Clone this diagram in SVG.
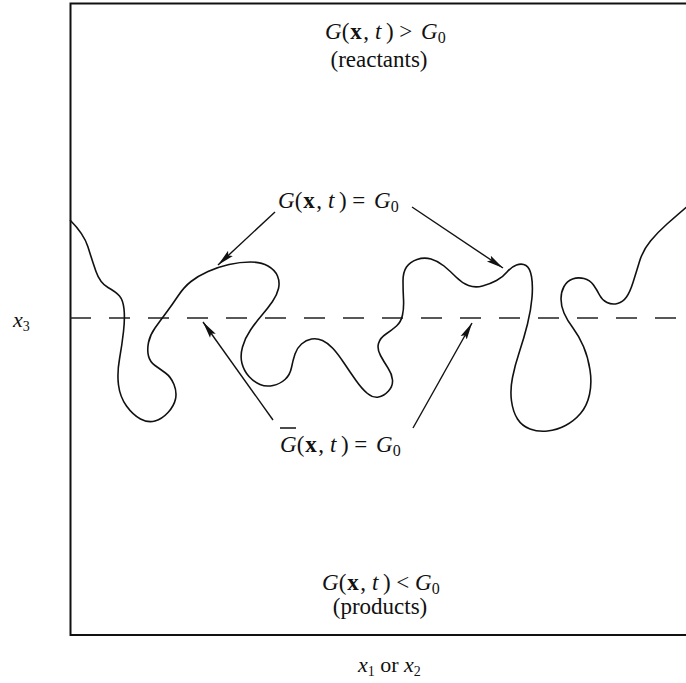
<svg xmlns="http://www.w3.org/2000/svg" width="686" height="683" viewBox="0 0 686 683">
<style>
text{font-family:"Liberation Serif","Times New Roman",serif;font-size:23px;fill:#111}
.i{font-style:italic}
.b{font-weight:bold}
.s{font-size:16px}
.ss{font-size:14px}
.frame{fill:none;stroke:#111;stroke-width:2}
.curve{fill:none;stroke:#111;stroke-width:1.6;stroke-linejoin:round}
.dash{fill:none;stroke:#222;stroke-width:1.6;stroke-dasharray:21 18}
.arrow{fill:none;stroke:#111;stroke-width:1.4}
</style>
<defs>
<marker id="ah" markerUnits="userSpaceOnUse" markerWidth="20" markerHeight="10" refX="17" refY="4" orient="auto">
<path d="M0,0.5 L17,4 L0,7.5 L3,4 z" fill="#111"/>
</marker>
</defs>
<rect width="686" height="683" fill="#fff"/>
<g id="frame">
<path class="frame" d="M686,3.5 H70.5 V635 H686"/>
</g>
<g id="mean-line">
<line class="dash" x1="70" y1="318" x2="686" y2="318"/>
</g>
<g id="flame-front">
<path class="curve" d="M70,220 Q84,234 88,247 Q92,260 96,271.5 Q100,283 108,287.5 Q116,292 119.5,296 Q123,300 124,309 Q125,318 123.5,331.5 Q122,345 119.5,359 Q117,373 118.5,385 Q120,397 126.5,406 Q133,415 140.5,419 Q148,423 155,421 Q162,419 168,412.5 Q174,406 175.5,399 Q177,392 174,384.5 Q171,377 165.5,373 Q160,369 155,365.5 Q150,362 148.5,356 Q147,350 148.5,342.5 Q150,335 155,328 Q160,321 166,313 Q172,305 178,296 Q184,287 191,281.5 Q198,276 208,271.5 Q218,267 229,264.5 Q240,262 250.5,262 Q261,262 268,266 Q275,270 277.5,276 Q280,282 278.5,288.5 Q277,295 272.5,301.5 Q268,308 262,315 Q256,322 250.5,330 Q245,338 242.5,347 Q240,356 242,363.5 Q244,371 249,376.5 Q254,382 260,384.5 Q266,387 273,385.5 Q280,384 285,379.5 Q290,375 291.5,367.5 Q293,360 295,354 Q297,348 301.5,344 Q306,340 311.5,339 Q317,338 322.5,340.5 Q328,343 333,348.5 Q338,354 344,363 Q350,372 356,380.5 Q362,389 367.5,393.5 Q373,398 378.5,397 Q384,396 388.5,391 Q393,386 392.5,380 Q392,374 388,368 Q384,362 380.5,355.5 Q377,349 378.5,343.5 Q380,338 386,334 Q392,330 396.5,326 Q401,322 402.5,315 Q404,308 403.5,299 Q403,290 403,281 Q403,272 406.5,267 Q410,262 417,259.5 Q424,257 431,259 Q438,261 444,266 Q450,271 456,277 Q462,283 468.5,285.5 Q475,288 482.5,286 Q490,284 496.5,280.5 Q503,277 507,272 Q511,267 516.5,265 Q522,263 526,265.5 Q530,268 531.5,276.5 Q533,285 532,297.5 Q531,310 527.5,324 Q524,338 519.5,351.5 Q515,365 512.5,377.5 Q510,390 511.5,401 Q513,412 517.5,419 Q522,426 530,429 Q538,432 547.5,431 Q557,430 565.5,425.5 Q574,421 580.5,413.5 Q587,406 589.5,394.5 Q592,383 590,370 Q588,357 583.5,346.5 Q579,336 573,328 Q567,320 564,313 Q561,306 561,299 Q561,292 564,286.5 Q567,281 572.5,279 Q578,277 584,278.5 Q590,280 593.5,285 Q597,290 599.5,295 Q602,300 607,302.5 Q612,305 617.5,303.5 Q623,302 626.5,297 Q630,292 633,282.5 Q636,273 639.5,261.5 Q643,250 650.5,241 Q658,232 667,224 Q676,216 690,204"/>
</g>
<g id="label-reactants">
<text x="325" y="39"><tspan class="i">G</tspan>(<tspan class="b" dx="1">x</tspan><tspan dx="1.5">,</tspan><tspan class="i" dx="6">t</tspan><tspan dx="4.5">)</tspan> &gt; <tspan class="i" dx="3">G</tspan><tspan class="s" dy="4">0</tspan></text>
<text x="379" y="67" text-anchor="middle">(reactants)</text>
</g>
<g id="label-iso">
<text x="278" y="208"><tspan class="i">G</tspan>(<tspan class="b" dx="1">x</tspan><tspan dx="1.5">,</tspan><tspan class="i" dx="6">t</tspan><tspan dx="4.5">)</tspan> = <tspan class="i" dx="3">G</tspan><tspan class="s" dy="4">0</tspan></text>
</g>
<g id="label-mean">
<line x1="280" y1="428" x2="296" y2="428" stroke="#111" stroke-width="1.5"/>
<text x="280" y="452"><tspan class="i">G</tspan>(<tspan class="b" dx="1">x</tspan><tspan dx="1.5">,</tspan><tspan class="i" dx="6">t</tspan><tspan dx="4.5">)</tspan> = <tspan class="i" dx="3">G</tspan><tspan class="s" dy="4">0</tspan></text>
</g>
<g id="label-products">
<text x="322" y="590"><tspan class="i">G</tspan>(<tspan class="b" dx="1">x</tspan><tspan dx="1.5">,</tspan><tspan class="i" dx="6">t</tspan><tspan dx="4.5">)</tspan> &lt; <tspan class="i">G</tspan><tspan class="s" dy="4">0</tspan></text>
<text x="380" y="614" text-anchor="middle">(products)</text>
</g>
<g id="axis-x3">
<text x="13" y="327" style="font-size:22px"><tspan class="i">x</tspan><tspan class="ss" dy="4">3</tspan></text>
</g>
<g id="axis-x12">
<text x="358" y="672" style="font-size:22px"><tspan class="i">x</tspan><tspan class="ss" dy="4">1</tspan><tspan dy="-4"> or </tspan><tspan class="i">x</tspan><tspan class="ss" dy="4">2</tspan></text>
</g>
<g id="connectors">
<line class="arrow" x1="275" y1="212" x2="218" y2="265" marker-end="url(#ah)"/>
<line class="arrow" x1="412" y1="207" x2="503" y2="268" marker-end="url(#ah)"/>
<line class="arrow" x1="273" y1="420" x2="203" y2="322" marker-end="url(#ah)"/>
<line class="arrow" x1="413" y1="428" x2="472" y2="323" marker-end="url(#ah)"/>
</g>
</svg>
